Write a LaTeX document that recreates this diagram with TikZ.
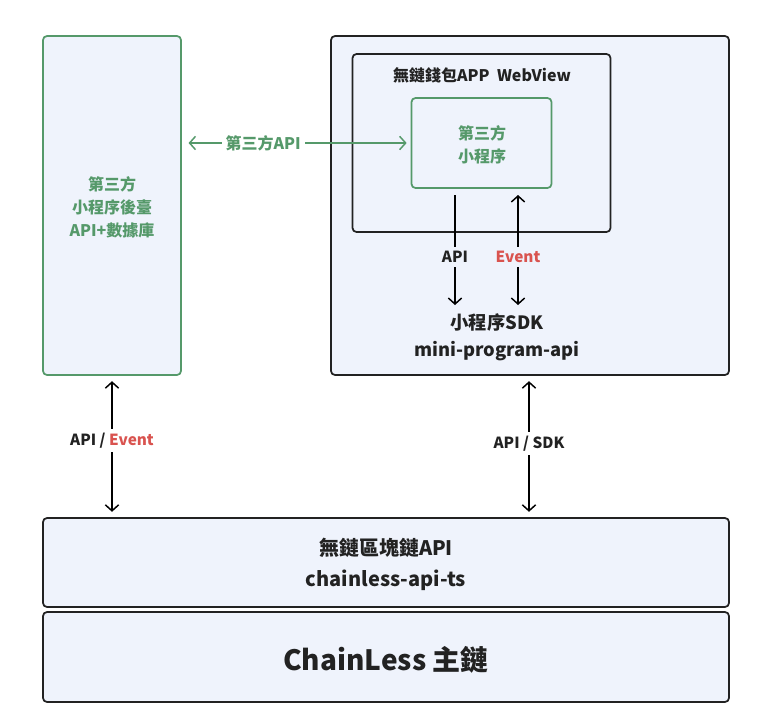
\documentclass[tikz,border=0pt]{standalone}
\usepackage{fontspec}
\setmainfont{Noto Sans CJK TC}
\usetikzlibrary{arrows.meta}
\definecolor{panelfill}{HTML}{EFF3FC}
\definecolor{mpgreen}{HTML}{55996A}
\definecolor{evred}{HTML}{D9534F}
\definecolor{inkdark}{HTML}{222222}

\begin{document}
\begin{tikzpicture}[x=0.75pt,y=-0.75pt,
    panel/.style={draw=inkdark, line width=1.3pt, fill=panelfill, rounded corners=3pt},
    greenpanel/.style={draw=mpgreen, line width=1.3pt, fill=panelfill, rounded corners=3pt},
    flow/.style={line width=1.1pt, arrows={-Straight Barb[length=4.5pt,width=10pt]}},
    twoway/.style={flow, arrows={Straight Barb[length=4.5pt,width=10pt]-Straight Barb[length=4.5pt,width=10pt]}},
    lbl/.style={font=\fontsize{11.5}{14}\selectfont\bfseries, text=inkdark, inner sep=3pt}]
        % 畫布大小
        \useasboundingbox (0,0) rectangle (768,714);

        % 上方兩個框
        \node[greenpanel, minimum width=103.5pt, minimum height=254.25pt] (backend) at (112,205.5) {};
        \node[panel, minimum width=298.5pt, minimum height=254.25pt] (walletbox) at (530,205.5) {};
        \node[panel, minimum width=193.5pt, minimum height=133.5pt] (webview) at (481.5,143) {};
        \node[greenpanel, minimum width=105pt, minimum height=67.5pt] (miniapp) at (481.5,143) {};

        % 框內文字
        \node[text=mpgreen, align=center, font=\fontsize{12}{17.25}\selectfont\bfseries] (backendtxt) at (112,207)
          {第三方\\小程序後臺\\API+數據庫};
        \node[text=inkdark, font=\fontsize{12}{14}\selectfont\bfseries] (webviewtxt) at (482,75) {無鏈錢包APP\ \ WebView};
        \node[text=mpgreen, align=center, font=\fontsize{12}{17.25}\selectfont\bfseries] (miniapptxt) at (482,144.5)
          {第三方\\小程序};
        \node[text=inkdark, align=center, font=\fontsize{13.75}{20}\selectfont\bfseries] (sdktxt) at (497,337)
          {小程序SDK\\mini-program-api};

        % 下方兩層
        \node[panel, minimum width=514.5pt, minimum height=66.75pt] (chainapi) at (386,562.5) {};
        \node[panel, minimum width=514.5pt, minimum height=67.5pt] (mainchain) at (386,657) {};
        \node[text=inkdark, align=center, font=\fontsize{15}{23}\selectfont\bfseries] (chainapitxt) at (386,564.5)
          {無鏈區塊鏈API\\chainless-api-ts};
        \node[text=inkdark, font=\fontsize{21}{24}\selectfont\bfseries] (mainchaintxt) at (386,660) {ChainLess 主鏈};

        % 小程序與SDK之間
        \coordinate (apitop) at (455,195);
        \coordinate (apibot) at (455,305);
        \coordinate (evtop) at (518,195);
        \coordinate (evbot) at (518,305);
        \draw[flow] (apitop) -- (apibot)
          node[lbl, fill=panelfill, pos=0.565] (apilbl) {API};
        \draw[twoway] (evtop) -- (evbot)
          node[lbl, fill=panelfill, text=evred, pos=0.565] (evlbl) {Event};

        % 第三方API
        \draw[twoway, draw=mpgreen, shorten <=3pt, shorten >=5pt] (miniapp.west) -- (miniapp.west -| backend.east)
          node[lbl, fill=white, text=mpgreen, font=\fontsize{12}{14}\selectfont\bfseries, pos=0.645] (thirdapi) {第三方API};

        % 連到區塊鏈API
        \draw[twoway, shorten <=4pt, shorten >=4pt] (backend.south) -- (backend.south |- chainapi.north)
          node[lbl, fill=white, pos=0.46] (leftlbl) {API / \textcolor{evred}{Event}};
        \draw[twoway, shorten <=4pt, shorten >=4pt] ([xshift=-0.75pt]walletbox.south) -- ([xshift=-0.75pt]walletbox.south |- chainapi.north)
          node[lbl, fill=white, pos=0.48] (rightlbl) {API / SDK};
\end{tikzpicture}
\end{document}
